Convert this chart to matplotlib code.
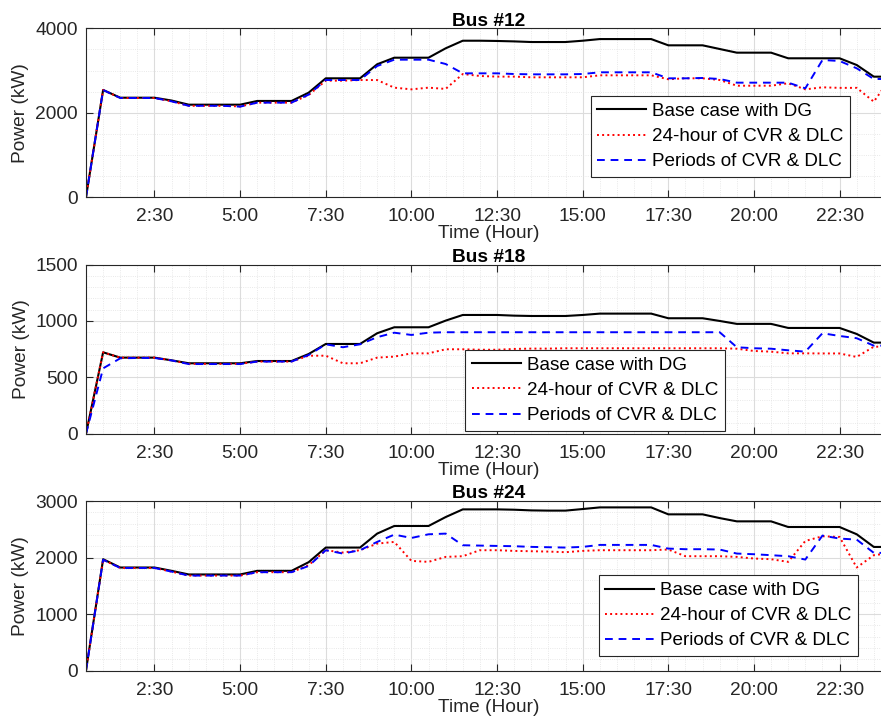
import numpy as np
import matplotlib
matplotlib.use('Agg')
import matplotlib.pyplot as plt
from matplotlib.ticker import MultipleLocator

plt.rcParams['font.family'] = ['Liberation Sans', 'DejaVu Sans']

# time in hours, every 30 min
hours = np.arange(1, 49) * 0.5
tick_pos = [2.5, 5, 7.5, 10, 12.5, 15, 17.5, 20, 22.5]
tick_lab = ['2:30', '5:00', '7:30', '10:00', '12:30', '15:00', '17:30', '20:00', '22:30']

base12 = [0, 2540, 2357, 2357, 2357, 2290, 2192, 2192, 2192, 2192, 2280, 2280, 2280, 2476, 2816, 2816,
          2816, 3148, 3304, 3304, 3304, 3526, 3706, 3706, 3700, 3690, 3675, 3675, 3675, 3706, 3745, 3745,
          3745, 3745, 3597, 3597, 3597, 3510, 3423, 3423, 3423, 3290, 3290, 3290, 3290, 3131, 2855, 2855]
cvr12 = [0, 2540, 2350, 2350, 2350, 2270, 2165, 2165, 2165, 2150, 2240, 2240, 2240, 2420, 2760, 2760,
         2775, 2775, 2595, 2555, 2595, 2565, 2918, 2871, 2856, 2856, 2840, 2840, 2840, 2840, 2887, 2887,
         2887, 2887, 2793, 2816, 2816, 2776, 2641, 2641, 2641, 2698, 2555, 2603, 2590, 2590, 2263, 2840]
per12 = [0, 2540, 2350, 2350, 2350, 2270, 2165, 2165, 2165, 2145, 2240, 2240, 2240, 2430, 2776, 2776,
         2776, 3107, 3257, 3257, 3257, 3155, 2934, 2934, 2934, 2918, 2910, 2910, 2910, 2918, 2958, 2958,
         2958, 2958, 2816, 2816, 2824, 2800, 2713, 2713, 2713, 2713, 2579, 3250, 3226, 3053, 2800, 2800]

base18 = [0, 722, 675, 675, 675, 651, 625, 625, 625, 625, 645, 645, 645, 707, 796, 796,
          796, 891, 944, 944, 944, 1003, 1053, 1053, 1053, 1047, 1044, 1044, 1044, 1053, 1065, 1065,
          1065, 1065, 1024, 1024, 1024, 1000, 974, 974, 974, 938, 938, 938, 938, 885, 808, 808]
cvr18 = [0, 722, 675, 675, 675, 651, 620, 620, 620, 620, 640, 640, 640, 692, 692, 625,
         625, 675, 684, 713, 713, 749, 749, 745, 745, 752, 755, 755, 758, 758, 758, 758,
         758, 758, 758, 758, 758, 758, 754, 734, 728, 713, 713, 712, 712, 681, 772, 772]
per18 = [0, 580, 669, 672, 672, 650, 618, 618, 618, 618, 640, 640, 640, 698, 793, 767,
         793, 856, 896, 876, 896, 900, 900, 900, 900, 900, 900, 900, 900, 900, 900, 900,
         900, 900, 900, 900, 900, 900, 767, 758, 754, 740, 728, 891, 867, 847, 781, 781]

base24 = [0, 1970, 1823, 1823, 1823, 1764, 1700, 1700, 1700, 1700, 1764, 1764, 1764, 1917, 2176, 2176,
          2176, 2423, 2558, 2558, 2558, 2716, 2852, 2852, 2852, 2846, 2834, 2830, 2830, 2858, 2887, 2887,
          2887, 2887, 2764, 2764, 2764, 2698, 2640, 2640, 2640, 2540, 2540, 2540, 2540, 2411, 2187, 2187]
cvr24 = [0, 1960, 1815, 1815, 1815, 1750, 1680, 1680, 1680, 1680, 1740, 1740, 1740, 1864, 2129, 2088,
         2129, 2246, 2276, 1940, 1923, 2011, 2023, 2129, 2129, 2117, 2111, 2105, 2094, 2117, 2129, 2129,
         2129, 2129, 2141, 2023, 2023, 2023, 2011, 1982, 1970, 1923, 2293, 2376, 2364, 1823, 2041, 2080]
per24 = [0, 1960, 1815, 1815, 1815, 1750, 1680, 1680, 1680, 1680, 1740, 1740, 1740, 1850, 2129, 2070,
         2129, 2276, 2405, 2346, 2411, 2423, 2217, 2211, 2205, 2200, 2188, 2182, 2176, 2188, 2223, 2223,
         2223, 2223, 2158, 2147, 2147, 2141, 2070, 2058, 2041, 2023, 1964, 2388, 2335, 2317, 2082, 2082]

panels = [
    ('Bus #12', base12, cvr12, per12, 4000, 2000, 500, [0.0976, 0.726, 0.9137, 0.2347], (0.627, 0.12)),
    ('Bus #18', base18, cvr18, per18, 1500, 500, 100, [0.0976, 0.3975, 0.9137, 0.2351], (0.471, 0.018)),
    ('Bus #24', base24, cvr24, per24, 3000, 1000, 200, [0.0976, 0.06875, 0.9137, 0.2354], (0.637, 0.085)),
]

txt = '#262626'
fig = plt.figure(figsize=(8.81, 7.2), dpi=100)
for title, b, c, p, ymax, major, minor, pos, lpos in panels:
    ax = fig.add_axes(pos)
    ax.plot(hours, b, color='k', lw=1.5, label='Base case with DG')
    ax.plot(hours, c, color='r', lw=1.4, ls=':', label='24-hour of CVR & DLC')
    ax.plot(hours, p, color='b', lw=1.4, ls='--', dashes=(4, 3), label='Periods of CVR & DLC')
    ax.set_xlim(0.5, 24)
    ax.set_ylim(0, ymax)
    ax.set_xticks(tick_pos)
    ax.set_xticklabels(tick_lab)
    ax.xaxis.set_minor_locator(MultipleLocator(0.5))
    ax.yaxis.set_major_locator(MultipleLocator(major))
    ax.yaxis.set_minor_locator(MultipleLocator(minor))
    ax.grid(True, which='major', color='#dcdcdc', lw=0.8)
    ax.grid(True, which='minor', color='#e2e2e2', lw=0.6, ls=':')
    ax.set_axisbelow(True)
    ax.tick_params(which='major', direction='in', length=5, top=True, labelsize=13.8, colors=txt, width=0.8)
    ax.tick_params(axis='x', which='major', pad=8)
    ax.tick_params(axis='y', which='major', pad=6)
    ax.tick_params(which='minor', length=0)
    for s in ax.spines.values():
        s.set_color(txt)
        s.set_linewidth(0.8)
    ax.set_title(title, fontsize=13.8, fontweight='bold', color='k', pad=2)
    ax.set_xlabel('Time (Hour)', fontsize=13.8, color=txt, labelpad=0)
    ax.set_ylabel('Power (kW)', fontsize=13.8, color=txt, labelpad=4)
    leg = ax.legend(loc='lower left', bbox_to_anchor=lpos, fontsize=13.6, fancybox=False,
                    framealpha=1, edgecolor=txt, handlelength=2.6, handletextpad=0.3,
                    borderpad=0.35, labelspacing=0.42, borderaxespad=0)
    leg.get_frame().set_linewidth(0.8)
    for t in leg.get_texts():
        t.set_color('k')

fig.savefig('out.png', dpi=100)
